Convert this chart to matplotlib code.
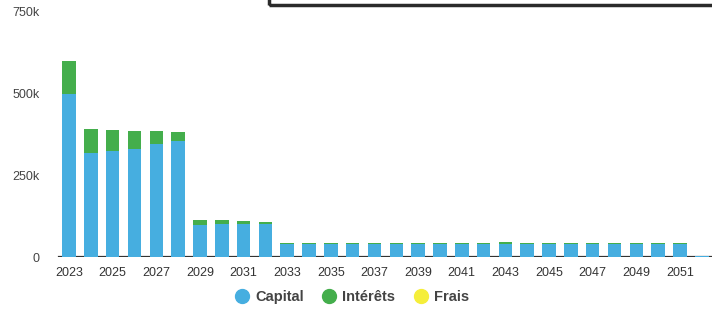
import matplotlib.pyplot as plt
from matplotlib.lines import Line2D
from matplotlib.patches import Rectangle
import numpy as np

plt.rcParams['font.family'] = ['Liberation Sans', 'DejaVu Sans']

# yearly repayment schedule, in k
years = list(range(2023, 2053))
capital = [500, 317, 325, 332, 345, 354, 98, 100, 101, 102,
           40, 40, 40, 40, 40, 40, 40, 40, 40, 40,
           41, 40, 40, 40, 40, 41, 41, 41, 41, 3]
interets = [100, 76, 65, 55, 40, 30, 16, 12, 9, 5,
            3, 3, 3, 3, 3, 3, 3, 3, 3, 3,
            4, 3, 3, 3, 3, 3, 3, 3, 2, 0]
frais = [0] * len(years)
yticks = [0, 250, 500, 750]
ytick_labels = ["0", "250k", "500k", "750k"]

c_cap = "#46aee0"
c_int = "#44ae4c"
c_frais = "#f5ee3a"

fig = plt.figure(figsize=(7.12, 3.12), dpi=100)
ax = fig.add_axes([52 / 712, 55 / 312, 1 - 52 / 712, 245 / 312])

x = np.arange(len(years))
cap = np.array(capital)
itr = np.array(interets)
ax.plot([-0.45, len(years) - 0.5], [0, 0], color="#333333", lw=1.6, zorder=1)
ax.bar(x, cap, width=0.62, color=c_cap, zorder=2)
ax.bar(x, itr, width=0.62, bottom=cap, color=c_int, zorder=2)
ax.bar(x, frais, width=0.62, bottom=cap + itr, color=c_frais, zorder=2)

ax.set_xlim(-0.78, 29.47)
ax.set_ylim(0, 750)
ax.set_yticks(yticks)
ax.set_yticklabels(ytick_labels)
ax.set_xticks(x[::2])
ax.set_xticklabels([str(y) for y in years[::2]])
ax.tick_params(axis="y", length=0, pad=9, labelsize=9, labelcolor="#444444")
ax.tick_params(axis="x", length=0, pad=7, labelsize=9, labelcolor="#333333")
for s in ax.spines.values():
    s.set_visible(False)

handles = [Line2D([], [], marker="o", ls="", ms=10, color=c) for c in (c_cap, c_int, c_frais)]
fig.legend(handles, ["Capital", "Intérêts", "Frais"], loc="center",
           bbox_to_anchor=(350 / 712, 1 - 297 / 312), ncol=3, frameon=False,
           handletextpad=0.15, columnspacing=1.0, handlelength=1.5,
           prop={"size": 10.5, "weight": "bold"}, labelcolor="#444444")

# cropped box at top right
fig.patches.append(Rectangle((269 / 712, 1 - 5 / 312), 0.7, 0.1,
                             transform=fig.transFigure, fill=False,
                             edgecolor="#2b2b2b", lw=2.5))

fig.savefig("out.png", dpi=100)
